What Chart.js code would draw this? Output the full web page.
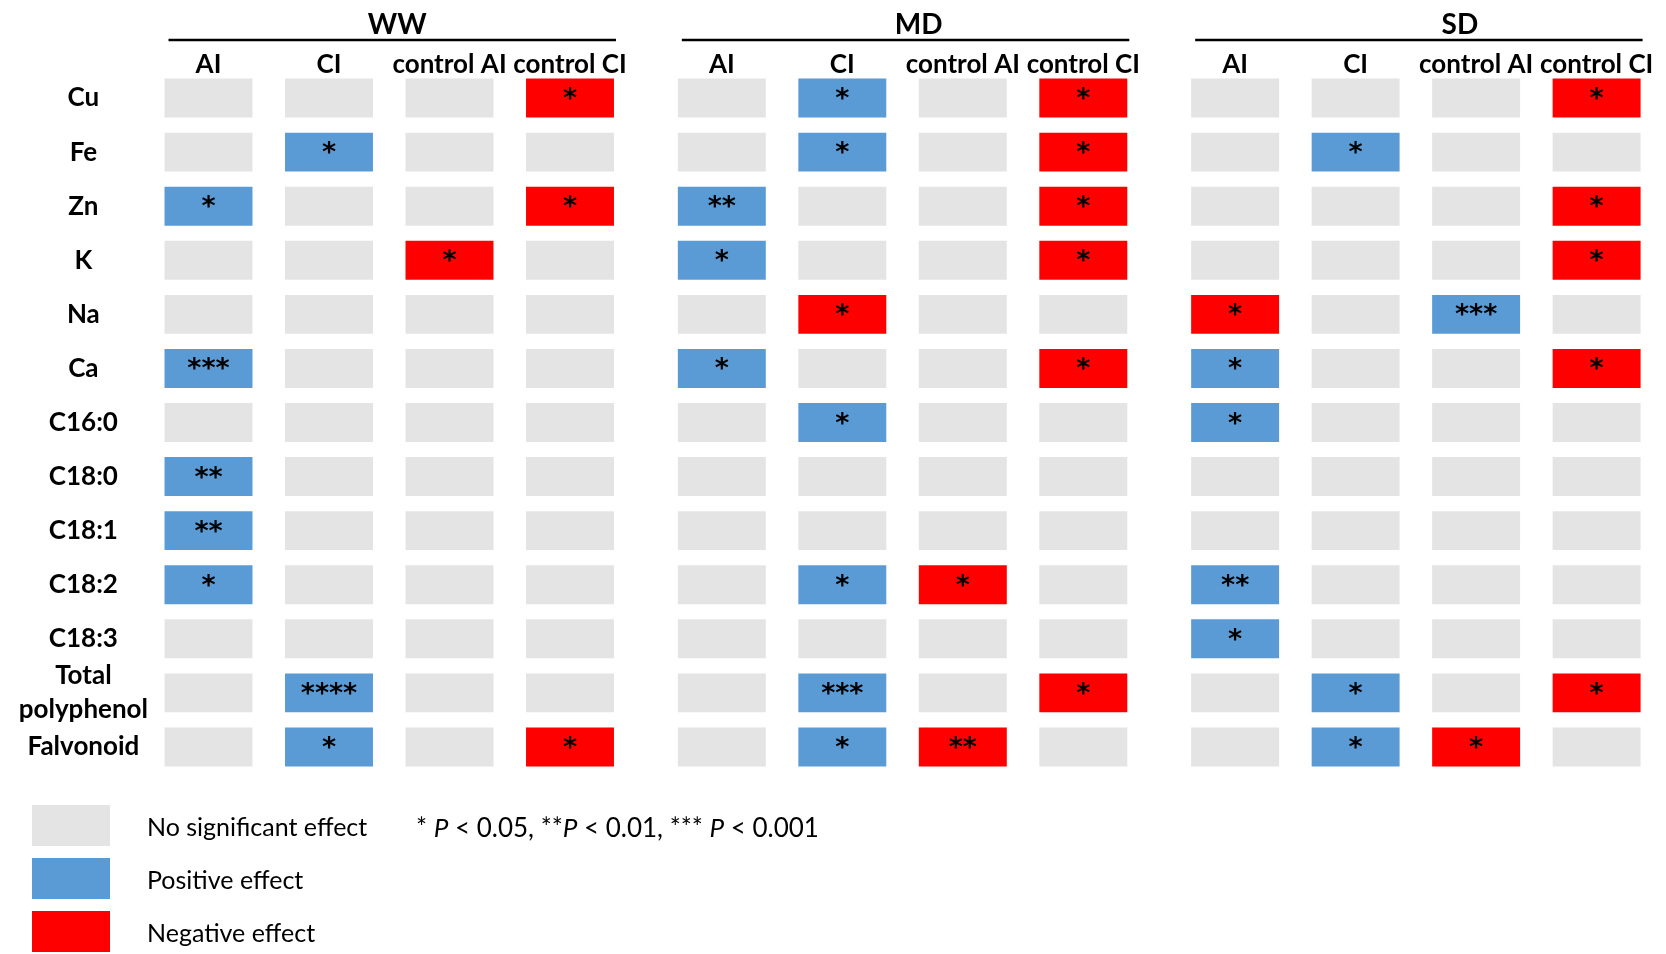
<!DOCTYPE html>
<html>
<head>
<meta charset="utf-8">
<script src="https://cdn.jsdelivr.net/npm/chart.js@4.4.1/dist/chart.umd.min.js"></script>
<style>
  html, body { margin: 0; padding: 0; background: #fff; }
  #wrap { width: 1666px; height: 954px; position: relative; }
</style>
</head>
<body>
<div id="wrap"><canvas id="chart"></canvas></div>
<script>
// rows of the table and the column headers
const rows = ['Cu', 'Fe', 'Zn', 'K', 'Na', 'Ca', 'C16:0', 'C18:0', 'C18:1', 'C18:2', 'C18:3', 'Total polyphenol', 'Falvonoid'];
const groups = ['WW', 'MD', 'SD'];
const treatments = ['AI', 'CI', 'control AI', 'control CI'];

// effect codes per row, one entry per treatment:
// 0 = no significant effect, +n = positive effect, -n = negative effect, |n| = number of asterisks
const wwEffect = [
  [0, 0, 0, -1],
  [0, 1, 0, 0],
  [1, 0, 0, -1],
  [0, 0, -1, 0],
  [0, 0, 0, 0],
  [3, 0, 0, 0],
  [0, 0, 0, 0],
  [2, 0, 0, 0],
  [2, 0, 0, 0],
  [1, 0, 0, 0],
  [0, 0, 0, 0],
  [0, 4, 0, 0],
  [0, 1, 0, -1]
];
const mdEffect = [
  [0, 1, 0, -1],
  [0, 1, 0, -1],
  [2, 0, 0, -1],
  [1, 0, 0, -1],
  [0, -1, 0, 0],
  [1, 0, 0, -1],
  [0, 1, 0, 0],
  [0, 0, 0, 0],
  [0, 0, 0, 0],
  [0, 1, -1, 0],
  [0, 0, 0, 0],
  [0, 3, 0, -1],
  [0, 1, -2, 0]
];
const sdEffect = [
  [0, 0, 0, -1],
  [0, 1, 0, 0],
  [0, 0, 0, -1],
  [0, 0, 0, -1],
  [-1, 0, 3, 0],
  [1, 0, 0, -1],
  [1, 0, 0, 0],
  [0, 0, 0, 0],
  [0, 0, 0, 0],
  [2, 0, 0, 0],
  [1, 0, 0, 0],
  [0, 1, 0, -1],
  [0, 1, -1, 0]
];
const effects = [wwEffect, mdEffect, sdEffect];

const legendLabels = ['No significant effect', 'Positive effect', 'Negative effect'];

const COLORS = { none: '#e4e4e4', pos: '#5b9bd5', neg: '#ff0000' };
const GROUP_STRIDE = 4.26;   // column units between groups
const HALF_W = 0.365;        // half cell width in column units
const TITLE_SHIFT = [8, 16, 44]; // group titles sit a little right of centre
const LABEL_FONT = 'Lato, "DejaVu Sans", sans-serif';
const TEXT_FONT = 'Lato, sans-serif';

function colPos(g, c) {
  return g * GROUP_STRIDE + c;
}

function effectColor(code) {
  if (code > 0) return COLORS.pos;
  if (code < 0) return COLORS.neg;
  return COLORS.none;
}

// one floating-bar dataset per group x treatment column
const datasets = [];
groups.forEach((grp, g) => {
  treatments.forEach((tr, c) => {
    const x = colPos(g, c);
    datasets.push({
      label: grp + ' ' + tr,
      data: rows.map(() => [x - HALF_W, x + HALF_W]),
      backgroundColor: effects[g].map(r => effectColor(r[c])),
      codes: effects[g].map(r => r[c]),
      borderWidth: 0,
      barPercentage: 0.72,
      categoryPercentage: 1
    });
  });
});

const starsPlugin = {
  id: 'stars',
  afterDatasetsDraw(chart) {
    const ctx = chart.ctx;
    ctx.save();
    ctx.fillStyle = '#000';
    ctx.font = 'bold 27px "DejaVu Sans", sans-serif';
    ctx.textAlign = 'center';
    ctx.textBaseline = 'middle';
    chart.data.datasets.forEach((ds, i) => {
      const meta = chart.getDatasetMeta(i);
      meta.data.forEach((el, j) => {
        const n = Math.abs(ds.codes[j]);
        if (!n) return;
        const cx = (el.x + el.base) / 2;
        ctx.fillText('*'.repeat(n), cx, el.y + 2);
      });
    });
    ctx.restore();
  }
};

const headerPlugin = {
  id: 'header',
  afterDraw(chart) {
    const ctx = chart.ctx;
    const xs = chart.scales.x;
    ctx.save();
    ctx.fillStyle = '#000';
    ctx.strokeStyle = '#000';
    ctx.textAlign = 'center';
    ctx.textBaseline = 'middle';
    groups.forEach((grp, g) => {
      const left = xs.getPixelForValue(colPos(g, 0) - HALF_W);
      const right = xs.getPixelForValue(colPos(g, 3) + HALF_W);
      ctx.lineWidth = 2.5;
      ctx.beginPath();
      ctx.moveTo(left + 4, 40);
      ctx.lineTo(right + 2, 40);
      ctx.stroke();
      ctx.font = 'bold 28px ' + LABEL_FONT;
      ctx.fillText(grp, (left + right) / 2 + TITLE_SHIFT[g], 25);
      ctx.font = 'bold 26px ' + LABEL_FONT;
      treatments.forEach((tr, c) => {
        ctx.fillText(tr, xs.getPixelForValue(colPos(g, c)), 65);
      });
    });

    // legend block
    const swatches = [COLORS.none, COLORS.pos, COLORS.neg];
    const tops = [805, 858, 911];
    ctx.textAlign = 'left';
    ctx.font = '25px ' + TEXT_FONT;
    swatches.forEach((col, k) => {
      ctx.fillStyle = col;
      ctx.fillRect(32, tops[k], 78, 41);
      ctx.fillStyle = '#000';
      ctx.fillText(legendLabels[k], 147, tops[k] + 23);
    });

    // p-value note with italic P
    const parts = [['* ', false], ['P', true], [' < 0.05, **', false], ['P', true], [' < 0.01, *** ', false], ['P', true], [' < 0.001', false]];
    let px = 416;
    parts.forEach(([t, it]) => {
      ctx.font = (it ? 'italic ' : '') + '26px ' + TEXT_FONT;
      ctx.fillText(t, px, 829);
      px += ctx.measureText(t).width;
    });
    ctx.restore();
  }
};

new Chart(document.getElementById('chart'), {
  type: 'bar',
  data: {
    labels: rows.map(r => r === 'Total polyphenol' ? ['Total', 'polyphenol'] : r),
    datasets
  },
  options: {
    indexAxis: 'y',
    responsive: true,
    maintainAspectRatio: false,
    animation: false,
    grouped: false,
    layout: { padding: { left: 0, right: 16, top: 71, bottom: 180 } },
    plugins: {
      legend: { display: false },
      tooltip: { enabled: false }
    },
    scales: {
      x: {
        type: 'linear',
        display: false,
        min: -0.4025,
        max: 11.963
      },
      y: {
        type: 'category',
        offset: true,
        grid: { display: false, drawTicks: false },
        border: { display: false },
        afterFit(scale) { scale.width = 160; },
        ticks: {
          color: '#000',
          autoSkip: false,
          crossAlign: 'center',
          padding: 12,
          font: { family: LABEL_FONT, weight: 'bold', size: 26, lineHeight: 1.3 }
        }
      }
    }
  },
  plugins: [starsPlugin, headerPlugin]
});
</script>
</body>
</html>
